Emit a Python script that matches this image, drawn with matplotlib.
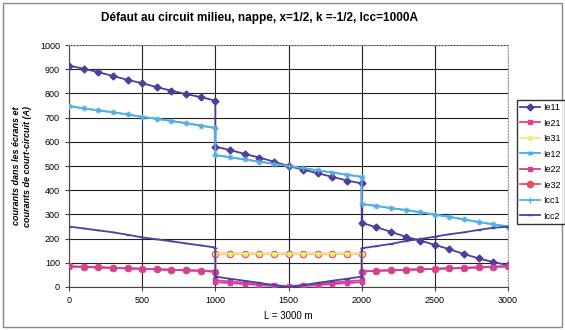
import numpy as np
import matplotlib
matplotlib.use("Agg")
import matplotlib.pyplot as plt
from matplotlib.patches import Rectangle

plt.rcParams["font.family"] = ["Liberation Sans", "DejaVu Sans"]

# distance along the line (m); 1000 and 2000 appear twice (jump at the cross-bonding points)
L = [0, 100, 200, 300, 400, 500, 600, 700, 800, 900, 1000,
     1000, 1100, 1200, 1300, 1400, 1500, 1600, 1700, 1800, 1900, 2000,
     2000, 2100, 2200, 2300, 2400, 2500, 2600, 2700, 2800, 2900, 3000]

ie11 = [915, 902, 888, 872, 856, 842, 826, 811, 797, 785, 770,
        580, 566, 550, 535, 518, 500, 485, 470, 455, 440, 428,
        265, 247, 228, 208, 192, 174, 156, 136, 118, 103, 90]
ie21 = [85, 83, 81, 79, 77, 75, 73, 71, 69, 67, 64,
        28, 23, 18, 13, 8, 3, 8, 13, 18, 23, 28,
        64, 67, 69, 71, 73, 75, 77, 79, 81, 83, 86]
ie31 = [85, 83, 81, 79, 77, 75, 73, 71, 69, 67, 64,
        138, 138, 138, 138, 138, 138, 138, 138, 138, 138, 138,
        64, 67, 69, 71, 73, 75, 77, 79, 81, 83, 86]
ie12 = [748, 738, 730, 722, 713, 703, 695, 686, 677, 667, 657,
        545, 536, 527, 518, 509, 500, 491, 482, 473, 464, 455,
        343, 335, 326, 318, 309, 299, 290, 279, 268, 259, 250]
ie22 = [85, 83, 81, 79, 77, 75, 73, 71, 69, 67, 64,
        20, 16, 12, 8, 4, 1, 4, 8, 12, 16, 20,
        64, 67, 69, 71, 73, 75, 77, 79, 81, 83, 86]
ie32 = [85, 83, 81, 79, 77, 75, 73, 71, 69, 67, 64,
        138, 138, 138, 138, 138, 138, 138, 138, 138, 138, 138,
        64, 67, 69, 71, 73, 75, 77, 79, 81, 83, 86]
icc1 = [748, 738, 730, 722, 713, 703, 695, 686, 677, 667, 657,
        545, 536, 527, 518, 509, 500, 491, 482, 473, 464, 455,
        343, 335, 326, 318, 309, 299, 290, 279, 268, 259, 250]
icc2 = [250, 242, 234, 226, 216, 205, 197, 189, 180, 172, 163,
        43, 34, 26, 17, 8, 0, 8, 17, 26, 34, 43,
        160, 169, 178, 190, 198, 208, 218, 226, 236, 245, 249]

# name, values, colour, marker, marker size, zorder
series = [
    ("Ie11", ie11, "#4b3f9c", "D", 3.5, 3),
    ("Ie21", ie21, "#e03c9c", "s", 3.5, 3),
    ("Ie31", ie31, "#f2ec7a", "o", 2.8, 2.5),
    ("Ie12", ie12, "#38b4e0", "x", 3.5, 2),
    ("Ie22", ie22, "#d0409c", "s", 3.5, 3),
    ("Ie32", ie32, "#e8505a", "o", 4.5, 2.2),
    ("Icc1", icc1, "#5aaee0", "+", 4.0, 3),
    ("Icc2", icc2, "#4444a4", "_", 3.0, 3),
]

fig = plt.figure(figsize=(5.65, 3.3), dpi=100)
ax = fig.add_axes([69 / 565, 43 / 330, 439 / 565, 242 / 330])

for name, vals, col, mk, ms, z in series:
    ax.plot(L, vals, color=col, lw=1.3, marker=mk, ms=ms,
            mec=col, mfc=col, mew=1.0, label=name, zorder=z)

ax.set_xlim(0, 3000)
ax.set_ylim(0, 1000)
ax.set_xticks(np.arange(0, 3001, 500))
ax.set_yticks(np.arange(0, 1001, 100))
ax.grid(True, color="#222222", lw=0.8)
ax.set_axisbelow(True)
ax.tick_params(labelsize=6.5, length=3, width=0.8, color="#444444")
for s in ["top", "right"]:
    ax.spines[s].set_color("#999999")
    ax.spines[s].set_linestyle(":")
for s in ["left", "bottom"]:
    ax.spines[s].set_color("#444444")

ax.set_xlabel("L = 3000 m", fontsize=7)
ax.set_ylabel("courants dans les écrans et\ncourants de court-circuit (A)",
              fontsize=6.5, fontweight="bold", fontstyle="italic", labelpad=6)

fig.text(0.46, 0.945, "Défaut au circuit milieu, nappe, x=1/2, k =-1/2, Icc=1000A",
         ha="center", va="center", fontsize=8.5, fontweight="bold")

fig.legend(loc="upper left", bbox_to_anchor=(512 / 565, 1 - 95 / 330),
           fontsize=6.5, frameon=True, fancybox=False, edgecolor="black",
           labelspacing=0.72, handlelength=2.2, borderpad=0.4, handletextpad=0.4)

fig.patches.append(Rectangle((0.006, 0.01), 0.988, 0.98, transform=fig.transFigure,
                             fill=False, edgecolor="#888888", lw=1.0))

fig.savefig("out.png", dpi=100)
